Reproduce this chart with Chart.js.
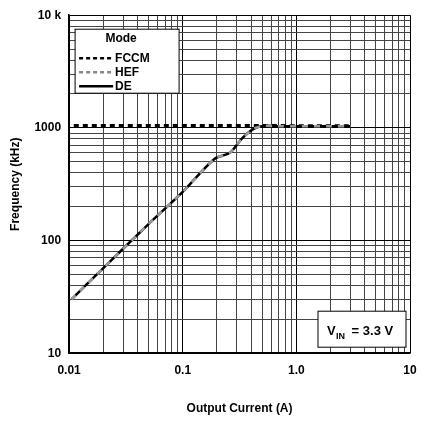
<!DOCTYPE html>
<html><head><script src="https://cdn.jsdelivr.net/npm/chart.js@4"></script>
<style>body{margin:0;background:#fff}#w{width:428px;height:428px;position:relative}</style></head>
<body><div id="w"><canvas id="c"></canvas></div>
<script>
const fccmX=[0.011,0.1,0.5,1,3];
const fccmY=[1050,1050,1050,1045,1045];
const deX=[0.0105,0.02,0.05,0.1,0.19,0.26,0.33,0.42,0.51,0.7,1,2,3];
const deY=[30,57,140,270,530,600,800,980,1040,1035,1035,1035,1035];
const heX=deX, heY=deY;
const xTicks=[0.01,0.1,1,10], xLabels=['0.01','0.1','1.0','10'];
const yTicks=[10,100,1000,10000], yLabels=['10','100','1000','10 k'];
const pts=(x,y)=>x.map((v,i)=>({x:v,y:y[i]}));
function minorTicks(a,b){const t=[];for(let d=a;d<b;d*=10)for(let k=1;k<10;k++)t.push(d*k);t.push(b);return t;}
const boxes={id:'boxes',afterDraw(c){const g=c.ctx,a=c.chartArea;g.save();
 g.fillStyle='#fff';g.strokeStyle='#000';g.lineWidth=1;
 g.fillRect(a.left+6,a.top+14,104,64);g.strokeRect(a.left+6,a.top+14,104,64);
 g.fillStyle='#000';g.font='bold 12px Arial, "Liberation Sans"';g.textAlign='center';g.fillText('Mode',a.left+52,a.top+27);
 const items=[['FCCM','#000',[4,3]],['HEF','#888',[4,3]],['DE','#000',[]]];
 items.forEach((it,i)=>{const y=a.top+43+i*14;g.strokeStyle=it[1];g.setLineDash(it[2]);g.lineWidth=2.5;g.beginPath();g.moveTo(a.left+10,y);g.lineTo(a.left+44,y);g.stroke();g.setLineDash([]);g.textAlign='left';g.fillStyle='#000';g.fillText(it[0],a.left+46,y+4);});
 const bx=a.right-92,by=a.bottom-42;g.fillStyle='#fff';g.fillRect(bx,by,88,36);g.strokeStyle='#000';g.lineWidth=1;g.strokeRect(bx,by,88,36);
 g.fillStyle='#000';g.font='bold 13px Arial, "Liberation Sans"';g.fillText('V',bx+9,by+24);g.font='bold 9px Arial, "Liberation Sans"';g.fillText('IN',bx+18,by+28);g.font='bold 13px Arial, "Liberation Sans"';g.fillText(' = 3.3 V',bx+30,by+24);
 g.restore();}};
new Chart(document.getElementById('c'),{type:'line',
 data:{datasets:[
  {label:'HEF',data:pts(heX,heY),borderColor:'#999',borderWidth:2.5,borderDash:[6,6],pointRadius:0,tension:0.3},
  {label:'DE',data:pts(deX,deY),borderColor:'#000',borderWidth:2.5,pointRadius:0,tension:0.3},
  {label:'FCCM',data:pts(fccmX,fccmY),borderColor:'#000',borderWidth:3,borderDash:[5,4],pointRadius:0}]},
 options:{responsive:true,maintainAspectRatio:false,animation:false,
  layout:{padding:{left:4,right:18,top:14,bottom:8}},
  plugins:{legend:{display:false},tooltip:{enabled:false}},
  scales:{
   x:{type:'logarithmic',min:0.01,max:10,afterBuildTicks:s=>{s.ticks=minorTicks(0.01,10).map(v=>({value:v}));},
    ticks:{autoSkip:false,maxRotation:0,padding:10,color:'#000',font:{size:12,weight:'bold',family:'Arial, "Liberation Sans"'},callback:v=>{const i=xTicks.findIndex(t=>Math.abs(t-v)/t<1e-6);return i>=0?xLabels[i]:'';}},
    grid:{color:c=>{const v=c.tick&&c.tick.value;return xTicks.some(t=>Math.abs(t-v)/t<1e-6)?'#000':'#444';},lineWidth:1,drawTicks:false},border:{color:'#000',width:1.5},
    title:{display:true,text:'Output Current (A)',color:'#000',font:{size:12,weight:'bold',family:'Arial, "Liberation Sans"'},padding:{top:14}}},
   y:{type:'logarithmic',min:10,max:10000,afterBuildTicks:s=>{s.ticks=minorTicks(10,10000).map(v=>({value:v}));},
    ticks:{autoSkip:false,color:'#000',font:{size:12,weight:'bold',family:'Arial, "Liberation Sans"'},padding:8,callback:v=>{const i=yTicks.findIndex(t=>Math.abs(t-v)/t<1e-6);return i>=0?yLabels[i]:'';}},
    grid:{color:c=>{const v=c.tick&&c.tick.value;return yTicks.some(t=>Math.abs(t-v)/t<1e-6)?'#000':'#444';},lineWidth:1,drawTicks:false},border:{color:'#000',width:1.5},
    title:{display:true,text:'Frequency (kHz)',color:'#000',font:{size:12,weight:'bold',family:'Arial, "Liberation Sans"'}}}}},
 plugins:[boxes]});
</script></body></html>
